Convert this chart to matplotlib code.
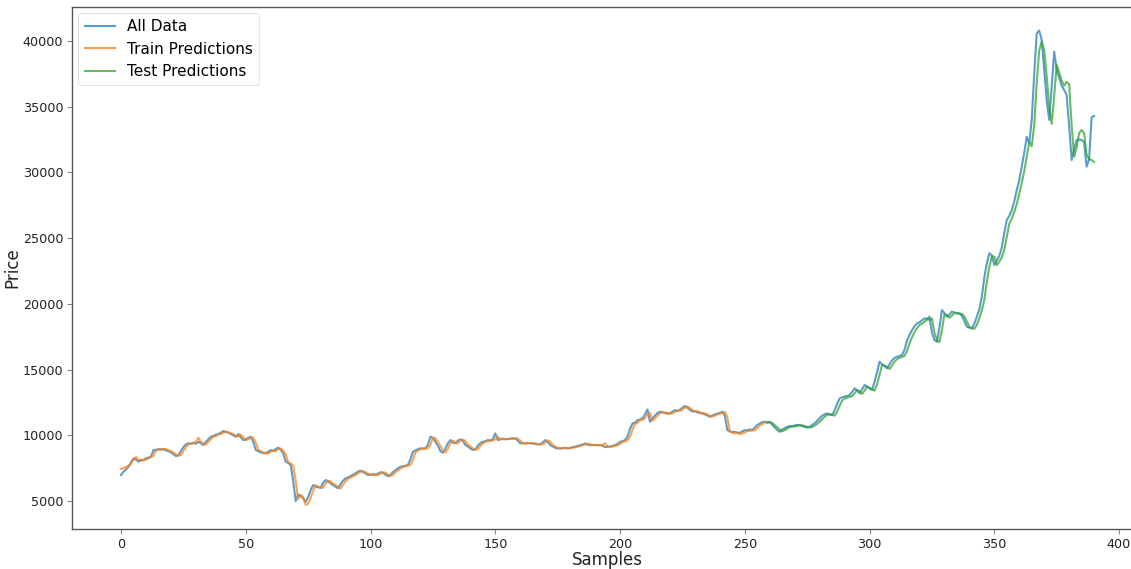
import matplotlib
matplotlib.use("Agg")
import matplotlib.pyplot as plt
import numpy as np

# ---- data ----
all_data = [
    6980, 7250, 7400, 7600, 7950, 8250, 8150, 8000, 8150, 8100,
    8250, 8300, 8400, 8880, 8900, 8950, 8920, 8960, 8850, 8800,
    8700, 8550, 8420, 8500, 8800, 9100, 9310, 9400, 9350, 9450,
    9350, 9510, 9400, 9260, 9500, 9700, 9890, 9950, 10050, 10100,
    10200, 10330, 10250, 10200, 10100, 10000, 9890, 10100, 9850, 9640,
    9700, 9800, 9890, 9500, 8880, 8800, 8700, 8650, 8630, 8750,
    8880, 8800, 8960, 9060, 8900, 8630, 7990, 7900, 7740, 6500,
    5000, 5500, 5400, 5200, 4950, 5300, 5840, 6220, 6100, 6050,
    6000, 6400, 6600, 6500, 6350, 6200, 6100, 5970, 6300, 6550,
    6730, 6800, 6900, 7000, 7110, 7250, 7310, 7200, 7100, 6980,
    7000, 7050, 6980, 7100, 7200, 7150, 7000, 6900, 7000, 7200,
    7350, 7490, 7600, 7650, 7700, 7740, 8200, 8750, 8850, 8950,
    9010, 9000, 9010, 9300, 9890, 9800, 9510, 9200, 8800, 8680,
    9000, 9400, 9640, 9450, 9390, 9600, 9690, 9600, 9260, 9150,
    9000, 8880, 8950, 9200, 9400, 9510, 9550, 9640, 9600, 9700,
    10150, 9640, 9700, 9750, 9700, 9720, 9750, 9770, 9770, 9600,
    9390, 9400, 9380, 9420, 9400, 9390, 9350, 9300, 9320, 9450,
    9640, 9500, 9260, 9150, 9050, 9000, 9010, 9030, 9050, 9000,
    9050, 9100, 9130, 9200, 9250, 9300, 9390, 9300, 9250, 9270,
    9260, 9250, 9260, 9200, 9100, 9130, 9150, 9200, 9260, 9350,
    9510, 9550, 9640, 9900, 10500, 10910, 10950, 11160, 11200, 11300,
    11600, 11970, 11030, 11300, 11500, 11700, 11800, 11750, 11700, 11650,
    11670, 11800, 11920, 11850, 11950, 12100, 12230, 12100, 11950, 11800,
    11850, 11750, 11700, 11670, 11600, 11500, 11410, 11500, 11600, 11650,
    11700, 11800, 11500, 10400, 10300, 10250, 10270, 10200, 10200, 10300,
    10400, 10380, 10450, 10400, 10600, 10780, 10900, 11000, 11030, 11000,
    11030, 10800, 10600, 10400, 10270, 10450, 10550, 10650, 10700, 10680,
    10750, 10800, 10780, 10700, 10650, 10600, 10650, 10800, 10910, 11100,
    11300, 11500, 11600, 11670, 11600, 11540, 11900, 12400, 12810, 12900,
    12950, 13000, 13070, 13300, 13580, 13400, 13200, 13500, 13830, 13700,
    13580, 13450, 14080, 14800, 15600, 15400, 15300, 15100, 15400, 15700,
    15900, 15980, 16050, 16110, 16500, 17200, 17630, 18000, 18300, 18520,
    18600, 18750, 18900, 18850, 19030, 17800, 17250, 17120, 18200, 19530,
    19300, 19030, 19200, 19410, 19350, 19300, 19280, 19100, 18700, 18260,
    18200, 18140, 18500, 19030, 19600, 20550, 22000, 23090, 23850, 23700,
    22960, 23300, 23650, 24300, 25400, 26380, 26700, 27140, 27800, 28660,
    29400, 30440, 31500, 32720, 32220, 34000, 37500, 40590, 40800, 40080,
    37800, 35500, 34000, 36500, 39190, 37800, 37200, 36600, 36270, 35900,
    33500, 30950, 31800, 32470, 32500, 32470, 32300, 30440, 31000, 34200,
    34300,
]

train_start = 0
train_pred = [
    7450, 7500, 7600, 7700, 7850, 8150, 8350, 8150, 8050, 8150,
    8150, 8250, 8350, 8450, 8850, 8900, 8950, 8930, 8950, 8850,
    8800, 8700, 8550, 8450, 8500, 8800, 9100, 9300, 9400, 9380,
    9500, 9820, 9500, 9380, 9300, 9500, 9700, 9880, 9950, 10050,
    10100, 10200, 10300, 10230, 10180, 10080, 9980, 9900, 10050, 9850,
    9650, 9700, 9800, 9850, 9450, 8900, 8800, 8700, 8650, 8640,
    8740, 8850, 8800, 8950, 9000, 8850, 8550, 7950, 7850, 7700,
    6500, 5150, 5450, 5300, 4700, 4800, 5250, 5800, 6200, 6100,
    6050, 6000, 6350, 6550, 6480, 6330, 6200, 6100, 5950, 6250,
    6500, 6700, 6780, 6880, 6980, 7100, 7230, 7290, 7200, 7100,
    6990, 7000, 7040, 6990, 7080, 7180, 7150, 7010, 6910, 6990,
    7180, 7330, 7470, 7580, 7640, 7690, 7730, 8150, 8700, 8830,
    8930, 8990, 8990, 9000, 9280, 9820, 9780, 9500, 9200, 8820,
    8700, 8980, 9380, 9600, 9440, 9390, 9580, 9670, 9590, 9270,
    9160, 9010, 8890, 8950, 9190, 9380, 9500, 9540, 9620, 9600,
    9690, 9900, 9680, 9700, 9740, 9700, 9720, 9740, 9760, 9760,
    9600, 9400, 9400, 9380, 9410, 9400, 9390, 9350, 9310, 9320,
    9440, 9620, 9500, 9270, 9160, 9060, 9010, 9010, 9030, 9050,
    9010, 9050, 9090, 9130, 9190, 9240, 9290, 9380, 9310, 9260,
    9270, 9260, 9250, 9260, 9400, 9150, 9130, 9150, 9190, 9250,
    9340, 9490, 9540, 9630, 9880, 10450, 10870, 10940, 11140, 11190,
    11290, 11580, 11700, 11100, 11300, 11490, 11680, 11780, 11740, 11700,
    11650, 11670, 11790, 11900, 11850, 11940, 12080, 12200, 12080, 11950,
    11810, 11840, 11750, 11700, 11670, 11600, 11500, 11420, 11490, 11590,
    11640, 11690, 11780, 11400, 10300, 10200, 10150, 10170, 10110, 10120,
    10220, 10330, 10330, 10400, 10380, 10560, 10740, 10870, 10970,
]

test_start = 259
test_pred = [
    10950, 10980, 10950, 10780, 10600, 10420, 10300, 10400, 10520, 10620,
    10680, 10670, 10720, 10770, 10760, 10700, 10640, 10600, 10630, 10750,
    10870, 11030, 11230, 11420, 11540, 11600, 11560, 11500, 11800, 12250,
    12650, 12800, 12870, 12930, 12980, 13200, 13450, 13350, 13150, 13400,
    13700, 13620, 13500, 13400, 13900, 14600, 15350, 15300, 15200, 15050,
    15300, 15600, 15800, 15900, 15970, 16050, 16400, 17000, 17450, 17850,
    18150, 18400, 18500, 18650, 18800, 18800, 18900, 17800, 17250, 17100,
    18000, 19200, 19150, 18950, 19100, 19300, 19280, 19250, 19250, 19050,
    18650, 18250, 18150, 18100, 18400, 18900, 19500, 20300, 21700, 22800,
    23600, 23600, 22950, 23200, 23550, 24100, 25100, 26100, 26500, 27000,
    27600, 28400, 29200, 30100, 31200, 32300, 32000, 33600, 36800, 39300,
    39950, 39300, 37300, 35000, 33700, 35800, 38200, 37600, 37000, 36600,
    36900, 36700, 33600, 31200, 31900, 33000, 33230, 33000, 31330, 31000,
    30950, 30800,
]

labels = ["All Data", "Train Predictions", "Test Predictions"]
colors = ["#1f77b4", "#ff7f0e", "#2ca02c"]

x_all = np.arange(len(all_data))
x_train = np.arange(train_start, train_start + len(train_pred))
x_test = np.arange(test_start, test_start + len(test_pred))

fig = plt.figure(figsize=(11.31, 5.69), dpi=100)
fig.patch.set_facecolor("white")
ax = fig.add_axes([0.0640, 0.0708, 0.9464, 0.9172])

ax.plot(x_all, all_data, color=colors[0], lw=1.5, alpha=0.72, label=labels[0])
ax.plot(x_train, train_pred, color=colors[1], lw=1.5, alpha=0.72, label=labels[1])
ax.plot(x_test, test_pred, color=colors[2], lw=1.5, alpha=0.72, label=labels[2])

ax.set_xlim(-19.5, 409.5)
ax.set_ylim(2895, 42605)
ax.set_xticks([0, 50, 100, 150, 200, 250, 300, 350, 400])
ax.set_yticks([5000, 10000, 15000, 20000, 25000, 30000, 35000, 40000])

for s in ax.spines.values():
    s.set_color("#555555")
    s.set_linewidth(1.0)
ax.tick_params(axis="both", which="major", labelsize=9.2, labelcolor="#222222",
               length=3.5, width=0.8, direction="out", color="#888888", pad=3)

ax.set_xlabel("Samples", fontsize=12, color="#222222", labelpad=0)
ax.set_ylabel("Price", fontsize=12, color="#222222", labelpad=1)

leg = ax.legend(loc="upper left", fontsize=11, frameon=True, fancybox=True,
                borderaxespad=0.4, handlelength=2.0)
leg.get_frame().set_edgecolor("#dddddd")
leg.get_frame().set_linewidth(0.8)

fig.savefig("out.png", dpi=100, facecolor="white")
